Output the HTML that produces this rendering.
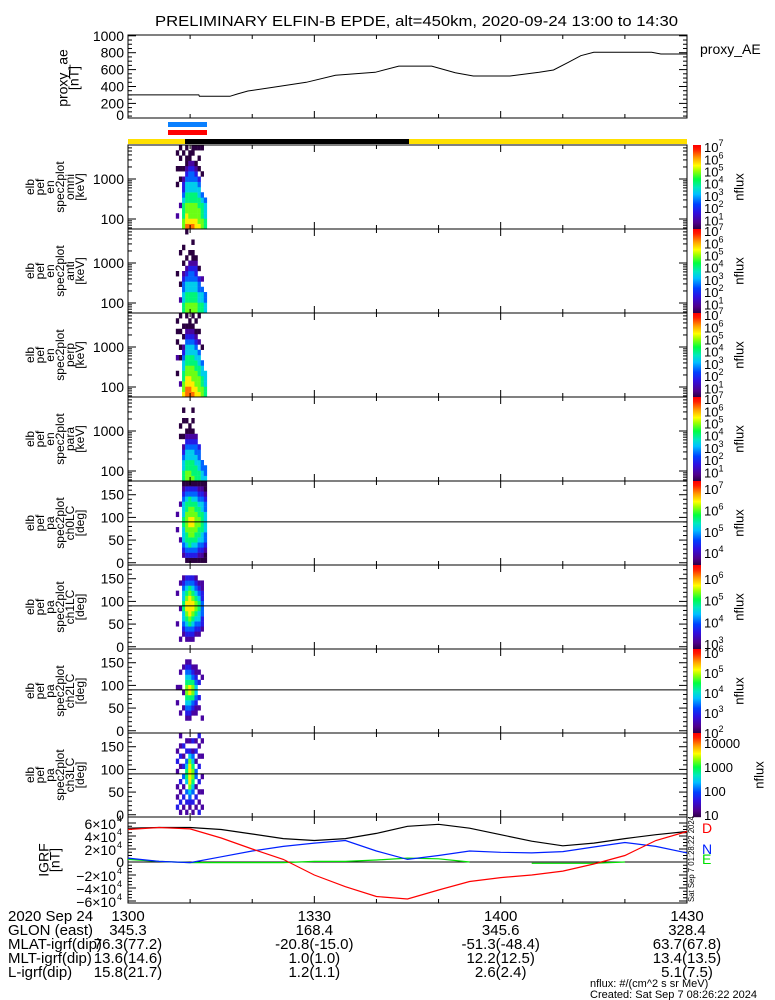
<!DOCTYPE html>
<html><head><meta charset="utf-8"><title>ELFIN-B EPDE</title>
<style>
html,body{margin:0;padding:0;background:#fff;}
svg{display:block;font-family:"Liberation Sans",sans-serif;}
</style></head>
<body>
<svg id="fig" width="775" height="1000" viewBox="0 0 775 1000" xmlns="http://www.w3.org/2000/svg">
<rect x="0" y="0" width="775" height="1000" fill="#fff"/>
<text x="155" y="26" font-size="15" textLength="523" lengthAdjust="spacingAndGlyphs">PRELIMINARY ELFIN-B EPDE, alt=450km, 2020-09-24 13:00 to 14:30</text>
<g id="layer"></g>
</svg>
<script>
// ---------- data ----------
const aeTimes = [0,11.4,11.5,16.4,17.6,19.3,23.4,28.7,33.4,39.8,43.6,48.9,52.7,55.6,61.5,66.2,68.5,70.9,72.9,75,84.3,85.8,90];
const aeValues = [300,300,284,284,311,347,390,450,532,568,642,642,563,524,524,568,595,686,765,805,805,785,785];

const igrfTimes = [0,5,10,15,20,25,30,35,40,45,50,55,60,65,70,75,80,85,90];
const igrfTotal = [52,53,53,50,43,36,33,36,44,55,58,52,42,32,25,29,36,42,47];
const igrfD = [50,53,51,37,20,4,-20,-38,-53,-57,-43,-30,-24,-20,-14,-3,10,33,47];
const igrfN = [6,1,-1,8,17,24,29,33,17,4,10,17,15,14,16,23,30,24,14];
const igrfE = [4,1,-1,-1,-1,-1,1,1,3,6,5,0,null,-2,-2,-2,0,null,null];

const specTimes = [7.7,8.2,8.7,9.2,9.7,10.2,10.7,11.2,11.7,12.2];
// energy spectra: each string = one time column, chars = colour level (0-9) per energy bin, bottom -> top; '.' = no data
const specOmni = ["..1.....0..0..0.","....1....0.0.0.0","6655543221.0..0.","87766554432100.0","876665544332100.","8766655443321.00","7766655443210..0","7666554432.0.0.0","6655543...0....0","554443.........."];
const specAnti = [".......0........","..1..0.....0....","55443321.0..0...","665544321.0....0","6655443321.0....","665544332100.0..","66554432210.....","5544332.0.......","55443.1.........","4433............"];
const specPerp = ["....0..1..0.0.0.","..1....0.0..0..0","7665544321.0.0..","88776655443210.0","887766554432100.","87766655443210.0","7766655443210.0.","766655443.1.0..0","6655443..0......","55444..........."];
const specPara = ["................","........0.0.....","5544321.0..0.0..","6655443210.0....","66554432100.....","6555443210.0.0..","555443321.......","5544332.........","4433............","433............."];
// pitch-angle spectra: chars per pitch-angle bin (0..180 deg), bottom -> top
const specCh0 = ["......1..1......","....1......1....",".123444554443210","0234556666554320","0235566776655320","0234566776654320","0234556666554320","0123455665543210","0123445555443210","0012334444332100"];
const specCh1 = ["....1.....1.....",".1.....1....1...","..123445544321..",".1234567765432..",".1235677776532..",".1234567765432..","..123456654321..","..12344554321...","...1223332211...","................"];
const specCh2 = [".....1..1.......","...1....1..1....","....1..1....1...","..123456654321..","..123457754321..","...1235665321...","...1123443211...","....1.2..2.1....","..1.......1.....","................"];
const specCh3 = [".2.1.1..1.2.1...","1.2.1.2..1.2.1.1",".1.2.1.3.2.1.2..","1.2.3.45543.2.1.",".123467777642.1.","1.2.345665431.2.",".1.2.1.33.1.2.1.","2.1.1.2..2.1.1.2",".1..1..1...1..1.","................"];

const panelTitles = [
 ["elb","pef","en","spec2plot","omni","[keV]"],
 ["elb","pef","en","spec2plot","anti","[keV]"],
 ["elb","pef","en","spec2plot","perp","[keV]"],
 ["elb","pef","en","spec2plot","para","[keV]"],
 ["elb","pef","pa","spec2plot","ch0LC","[deg]"],
 ["elb","pef","pa","spec2plot","ch1LC","[deg]"],
 ["elb","pef","pa","spec2plot","ch2LC","[deg]"],
 ["elb","pef","pa","spec2plot","ch3LC","[deg]"]];
const cbarTop = [7.1,7.1,7.1,7.1,7.33,6.6,6.15,4.42];
const cbarBot = [0.2,0.2,0.2,0.2,3.4,2.73,1.95,0.92];
const cbarExps = [[7,6,5,4,3,2,1],[7,6,5,4,3,2,1],[7,6,5,4,3,2,1],[7,6,5,4,3,2,1],[7,6,5,4],[6,5,4,3],[6,5,4,3,2],[4,3,2,1]];
const orbitRows = [
 ["2020 Sep 24","1300","1330","1400","1430"],
 ["GLON (east)","345.3","168.4","345.6","328.4"],
 ["MLAT-igrf(dip)","76.3(77.2)","-20.8(-15.0)","-51.3(-48.4)","63.7(67.8)"],
 ["MLT-igrf(dip)","13.6(14.6)","1.0(1.0)","12.2(12.5)","13.4(13.5)"],
 ["L-igrf(dip)","15.8(21.7)","1.2(1.1)","2.6(2.4)","5.1(7.5)"]];

// ---------- helpers ----------
const NS="http://www.w3.org/2000/svg";
const L=document.getElementById('layer');
function mk(tag,attrs,parent){const e=document.createElementNS(NS,tag);for(const k in attrs)e.setAttribute(k,attrs[k]);(parent||L).appendChild(e);return e;}
const X0=128,X1=687;
function X(t){return X0+t*(X1-X0)/90;}
const stops=[[0,[42,0,64]],[0.08,[80,0,138]],[0.2,[48,16,224]],[0.3,[0,64,255]],[0.42,[0,192,255]],[0.5,[0,232,192]],[0.6,[0,255,64]],[0.7,[160,255,0]],[0.76,[255,255,0]],[0.85,[255,160,0]],[0.95,[255,32,0]],[1,[255,0,0]]];
function cmap(f){f=Math.max(0,Math.min(1,f));for(let i=1;i<stops.length;i++){if(f<=stops[i][0]){const a=stops[i-1],b=stops[i];const u=(f-a[0])/(b[0]-a[0]);const c=a[1].map((v,j)=>Math.round(v+(b[1][j]-v)*u));return `rgb(${c[0]},${c[1]},${c[2]})`;}}return 'rgb(255,0,0)';}
function line(x1,y1,x2,y2,g,w,c){return mk('line',{x1,y1,x2,y2,stroke:c||'#000','stroke-width':w||1},g);}
function txt(s,x,y,opt,g){const e=mk('text',Object.assign({x,y,'font-size':13,fill:'#000'},opt||{}),g);e.textContent=s;return e;}
function timeTicks(g,top,bot){for(let m=0;m<=90;m+=10){const x=X(m);const len=(m%30===0)?7:4;line(x,top,x,top+len,g);line(x,bot,x,bot-len,g);}}
function frame(g,top,bot){mk('rect',{x:X0,y:top,width:X1-X0,height:bot-top,fill:'none',stroke:'#000','stroke-width':1},g);}
function vlabel(lines,cy,x0,dx,g,size){lines.forEach((s,i)=>{const x=x0+i*dx;txt(s,x,cy,{'font-size':size||12,'text-anchor':'middle',transform:`rotate(-90 ${x} ${cy})`,'dominant-baseline':'middle'},g);});}

// ---------- proxy AE panel ----------
{
 const g=mk('g',{});  
 const top=35,bot=118; const Y=v=>120.3-v*0.0845;
 frame(g,top,bot); timeTicks(g,top,bot);
 for(let v=0;v<=1000;v+=50){const y=Y(v);if(y<top||y>bot)continue;const len=(v%200===0)?8:4;line(X0,y,X0+len,y,g);line(X1,y,X1-len,y,g);}
 for(let v=0;v<=1000;v+=200){const t=txt(String(v),124,Math.min(Y(v),115)+5,{'font-size':14,'text-anchor':'end'},g);}
 const pts=aeTimes.map((t,i)=>X(t).toFixed(1)+','+Y(aeValues[i]).toFixed(1)).join(' ');
 const pl=mk('polyline',{points:pts,fill:'none',stroke:'#000','stroke-width':1},g);
  
 vlabel(["proxy_ae","[nT]"],78,64,11,g,14);
 const r=txt("proxy_AE",700,54,{'font-size':14},g);  
}
// ---------- science-zone bars ----------
{
 const g=mk('g',{});  
 mk('rect',{x:168,y:122,width:39,height:5,fill:'#0a80ff'},g);
 mk('rect',{x:168,y:130,width:39,height:5,fill:'#ff0000'},g);
 mk('rect',{x:128,y:139,width:559,height:5,fill:'#ffe000'},g);
 mk('rect',{x:185,y:139,width:224,height:5,fill:'#000'},g);
}
// ---------- spectrogram panels ----------
const specMats=[specOmni,specAnti,specPerp,specPara,specCh0,specCh1,specCh2,specCh3];
const names=['omni','anti','perp','para','ch0lc','ch1lc','ch2lc','ch3lc'];
for(let p=0;p<8;p++){
 const top=145+84*p, bot=top+84;
 const g=mk('g',{});  
 const energy=p<4;
 let Yf; if(energy){Yf=lg=>bot-10-(lg-2)*40;} else {Yf=d=>bot-2.25-d*0.4535;}
 const mat=specMats[p]; const dt=0.5;
 mat.forEach((col,ci)=>{
  const x=X(specTimes[ci]); const w=X(specTimes[ci]+dt)-x;
  for(let b=0;b<col.length;b++){
   const ch=col[b]; if(ch==='.')continue;
   let y0,y1;
   if(energy){const lo=1.75+b*(2.1/16),hi=lo+2.1/16;y0=Yf(hi);y1=Yf(lo);} else {y0=Yf((b+1)*11.25);y1=Yf(b*11.25);}
   y0=Math.max(y0,top);y1=Math.min(y1,bot);
   const r=mk('rect',{x:x.toFixed(2),y:y0.toFixed(2),width:(w+0.2).toFixed(2),height:(y1-y0+0.2).toFixed(2),fill:cmap(Number(ch)/9)},g);
    
  }
 });
 frame(g,top,bot); timeTicks(g,top,bot);
 if(energy){
  for(let d=1;d<=3;d++)for(let m=1;m<=9;m++){const lg=d+Math.log10(m);const y=Yf(lg);if(y<top+0.5||y>bot-0.5)continue;const len=m===1?8:4;line(X0,y,X0+len,y,g);line(X1,y,X1-len,y,g);}
  [[2,"100"],[3,"1000"]].forEach(a=>{const t=txt(a[1],124,Yf(a[0])+5,{'font-size':14,'text-anchor':'end'},g);});
 } else {
  for(let d=0;d<=180;d+=10){const y=Yf(d);if(y<top)continue;const len=d%50===0?8:4;line(X0,y,X0+len,y,g);line(X1,y,X1-len,y,g);}
  [0,50,100,150].forEach(d=>{const t=txt(String(d),124,Yf(d)+5,{'font-size':14,'text-anchor':'end'},g);});
  line(X0,Yf(90),X1,Yf(90),g);
 }
 vlabel(panelTitles[p],(top+bot)/2,31,10,g,12);
 const cg=mk('g',{},g);  
 for(let k=0;k<84;k++){mk('rect',{x:693,y:top+k,width:8,height:1.2,fill:cmap(1-k/84)},cg);}
 const tp=cbarTop[p],bt=cbarBot[p];
 cbarExps[p].forEach(e=>{
  const y=top+(tp-e)/(tp-bt)*84;
  let t;
  if(p===7){t=txt(String(Math.pow(10,e)),704,y+5,{'font-size':13},cg);}
  else{t=txt('10',704,y+6,{'font-size':13},cg);const s=mk('tspan',{dy:-6,'font-size':9},t);s.textContent=String(e);}
   
 });
 const nx=(p===7?760:740);
 const nf=txt('nflux',nx,(top+bot)/2,{'font-size':13,'text-anchor':'middle',transform:`rotate(-90 ${nx} ${(top+bot)/2})`,'dominant-baseline':'middle'},cg);
  
}
// ---------- IGRF panel ----------
{
 const g=mk('g',{});  
 const top=817,bot=903; const Y=v=>862-v*0.65;
 frame(g,top,bot); timeTicks(g,top,bot);
 for(let v=-60;v<=60;v+=5){const y=Y(v);if(y<top||y>bot)continue;const len=v%20===0?8:4;line(X0,y,X0+len,y,g);line(X1,y,X1-len,y,g);}
 for(let v=-60;v<=60;v+=20){
  let t;
  if(v===0){t=txt('0',124,Y(0)+5,{'font-size':14,'text-anchor':'end'},g);}
  else{t=txt((v<0?'\u2212':'')+Math.abs(v/10)+'\u00d710',116,Y(v)+6,{'font-size':14,'text-anchor':'end'},g);const s=txt('4',117,Y(v)-1,{'font-size':9},g);}
   
 }
 line(X0,Y(0),X1,Y(0),g);
 function series(vals,color,name){
  let segs=[],cur=[];
  vals.forEach((v,i)=>{if(v===null){if(cur.length)segs.push(cur);cur=[];}else cur.push(X(igrfTimes[i]).toFixed(1)+','+Y(v).toFixed(1));});
  if(cur.length)segs.push(cur);
  segs.forEach(s=>{const pl=mk('polyline',{points:s.join(' '),fill:'none',stroke:color,'stroke-width':1.2},g);});
 }
 series(igrfTotal,'#000','igrf-total-line');
 series(igrfE,'#00e000','igrf-e-line');
 series(igrfN,'#0020ff','igrf-n-line');
 series(igrfD,'#ff0000','igrf-d-line');
 vlabel(["IGRF","[nT]"],860,45,11,g,14);
 const d=txt('D',702,833,{'font-size':14,fill:'#ff0000'},g);  
 const n=txt('N',702,854,{'font-size':14,fill:'#0020ff'},g);  
 const e=txt('E',702,864,{'font-size':14,fill:'#00e000'},g);  
 const st=txt('Sat Sep  7 01:28:22 2024',694,902,{'font-size':8,transform:'rotate(-90 694 902)',textLength:86,lengthAdjust:'spacingAndGlyphs'},g);
  
}
// ---------- orbit annotation ----------
{
 const g=mk('g',{});  
 const cx=[X(0),X(30),X(60),X(90)];
 orbitRows.forEach((row,i)=>{
  const y=921+i*14;
  const l=txt(row[0],8,y,{'font-size':15},g);  
  for(let c=1;c<5;c++){const t=txt(row[c],cx[c-1],y,{'font-size':15,'text-anchor':'middle'},g);}
 });
 const f1=txt('nflux: #/(cm^2 s sr MeV)',590,987,{'font-size':11},g);  
 const f2=txt('Created: Sat Sep  7 08:26:22 2024',590,998,{'font-size':11},g);  
}
</script>
</body></html>
